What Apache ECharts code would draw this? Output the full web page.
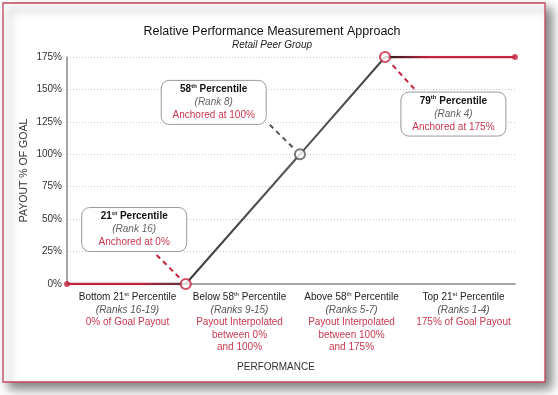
<!DOCTYPE html>
<html><head><meta charset="utf-8">
<script src="https://cdn.jsdelivr.net/npm/echarts@6/dist/echarts.min.js"></script>
<style>html,body{margin:0;padding:0;background:#fff}#c{width:558px;height:395px}</style>
</head><body><div id="c"></div>
<script>
// ---- data ----
const catMain = ['Bottom 21', 'Below 58', 'Above 58', 'Top 21'];
const catSup = ['st', 'th', 'th', 'st'];
const catRanks = ['(Ranks 16-19)', '(Ranks 9-15)', '(Ranks 5-7)', '(Ranks 1-4)'];
const catPayout = [['0% of Goal Payout'], ['Payout Interpolated', 'between 0%', 'and 100%'], ['Payout Interpolated', 'between 100%', 'and 175%'], ['175% of Goal Payout']];
const yTicks = [0, 25, 50, 75, 100, 125, 150, 175];
// payout curve (x in category units 0..4, y in % of goal)
const curveX = [0, 1.06, 2.08, 2.84, 4];
const curveY = [0, 0, 100, 175, 175];
// annotations
const annNum = ['21', '58', '79'];
const annSup = ['st', 'th', 'th'];
const annRank = ['(Rank 16)', '(Rank 8)', '(Rank 4)'];
const annAnchor = ['Anchored at 0%', 'Anchored at 100%', 'Anchored at 175%'];
const annPointIdx = [1, 2, 3];
const annBoxX = [0.60, 1.31, 3.45];
const annBoxY = [42, 140, 131];
const annLeadX = [0.80, 1.81, 3.10];
const annLeadY = [22.4, 122.7, 150.5];

const RED = '#c4243f', REDT = '#c8374f', FONT = 'Liberation Sans, Arial, sans-serif';
const chart = echarts.init(document.getElementById('c'), null, {renderer: 'canvas'});
const pts = curveX.map((x, i) => [x, curveY[i]]);

function grad(stops) {
  return {type: 'linear', x: 0, y: 0, x2: 1, y2: 0, colorStops: stops.map(s => ({offset: s[0], color: s[1]}))};
}

const option = {
  animation: false,
  backgroundColor: '#fff',
  title: {
    text: 'Relative Performance Measurement Approach',
    subtext: 'Retail Peer Group',
    left: 267, top: 20, textAlign: 'center', itemGap: 2,
    textStyle: {fontFamily: FONT, fontSize: 12.5, fontWeight: 'normal', color: '#111'},
    subtextStyle: {fontFamily: FONT, fontSize: 10, fontStyle: 'italic', color: '#222'}
  },
  grid: {left: 67, right: 43, top: 57, bottom: 111},
  xAxis: [
    {type: 'value', min: 0, max: 4, axisLine: {show: true, lineStyle: {color: '#8a8a8a', width: 1.5}},
     axisTick: {show: false}, axisLabel: {show: false}, splitLine: {show: false}},
    {type: 'category', position: 'bottom', data: catMain, boundaryGap: true,
     axisLine: {show: false}, axisTick: {show: false}, splitLine: {show: false},
     axisLabel: {
       margin: 7, interval: 0, lineHeight: 12.5, fontFamily: FONT, padding: [0, 0, 0, 9],
       formatter: (v, i) => {
         let s = '{b|' + catMain[i] + '}{sup|' + catSup[i] + '}{b| Percentile}\n{i|' + catRanks[i] + '}';
         catPayout[i].forEach(l => { s += '\n{r|' + l + '}'; });
         return s;
       },
       rich: {
         b: {fontFamily: FONT, fontSize: 10, color: '#222', lineHeight: 12.5},
         sup: {fontFamily: FONT, fontSize: 6, color: '#222', verticalAlign: 'top', lineHeight: 12.5, padding: [0, 0, 4, 0]},
         i: {fontFamily: FONT, fontSize: 10, color: '#555', fontStyle: 'italic', lineHeight: 12.5},
         r: {fontFamily: FONT, fontSize: 10, color: REDT, lineHeight: 12.5}
       }
     }}
  ],
  yAxis: {
    type: 'value', min: 0, max: 175, interval: 25,
    name: 'PAYOUT % OF GOAL', nameLocation: 'middle', nameGap: 37, nameMoveOverlap: false,
    nameTextStyle: {fontFamily: FONT, fontSize: 10.5, color: '#333'},
    axisLine: {show: true, lineStyle: {color: '#8a8a8a', width: 1.5}},
    axisTick: {show: false},
    axisLabel: {formatter: '{value}%', fontFamily: FONT, fontSize: 10, color: '#333', margin: 5},
    splitLine: {show: true, lineStyle: {color: '#c8c8c8', type: [1, 2], width: 1}}
  },
  series: [
    {type: 'line', xAxisIndex: 0, data: pts.slice(0, 2), symbol: 'none', z: 3,
     lineStyle: {width: 2.5, color: grad([[0, RED], [0.6, RED], [1, '#4a3a3c']])}},
    {type: 'line', xAxisIndex: 0, data: pts.slice(1, 4), symbol: 'none', z: 3,
     lineStyle: {width: 2, color: grad([[0, '#3a3a3a'], [0.5, '#555'], [1, '#444']])}},
    {type: 'line', xAxisIndex: 0, data: pts.slice(3, 5), symbol: 'none', z: 3,
     lineStyle: {width: 2.5, color: grad([[0, '#1a1a1a'], [0.35, RED], [1, RED]])}},
    {type: 'scatter', xAxisIndex: 0, z: 5,
     data: [
       {value: pts[0], symbolSize: 6, itemStyle: {color: RED}},
       {value: pts[1], symbolSize: 10, itemStyle: {color: '#fff', borderColor: RED, borderWidth: 2.2}},
       {value: pts[2], symbolSize: 10, itemStyle: {color: '#fff', borderColor: '#555', borderWidth: 2}},
       {value: pts[3], symbolSize: 10, itemStyle: {color: '#fff', borderColor: RED, borderWidth: 2.2}},
       {value: pts[4], symbolSize: 6, itemStyle: {color: RED}}
     ]}
  ]
};
chart.setOption(option);

// graphics: frame, shadow, axis title, annotation boxes
const g = [
  {type: 'rect', z: -10, silent: true, shape: {x: 3, y: 3, width: 542, height: 379},
   style: {fill: '#fff', stroke: '#c4445a', lineWidth: 1.3, shadowBlur: 10, shadowOffsetX: 6, shadowOffsetY: 6, shadowColor: 'rgba(0,0,0,0.5)'}},
  {type: 'text', x: 276, y: 367, z: 10, style: {text: 'PERFORMANCE', font: '10px ' + FONT, fill: '#333', align: 'center', verticalAlign: 'middle'}}
];
const leadColor = [RED, '#555', RED];
annNum.forEach((n, i) => {
  const c = chart.convertToPixel({xAxisIndex: 0, yAxisIndex: 0}, [annBoxX[i], annBoxY[i]]);
  const w = 105, h = 44;
  g.push({type: 'rect', z: 20, shape: {x: c[0] - w / 2, y: c[1] - h / 2, width: w, height: h, r: 8},
    style: {fill: '#fff', stroke: '#9a9a9a', lineWidth: 1}});
  g.push({type: 'text', z: 21, x: c[0], y: c[1], style: {
    text: '{b|' + n + '}{sup|' + annSup[i] + '}{b| Percentile}\n{i|' + annRank[i] + '}\n{r|' + annAnchor[i] + '}',
    align: 'center', verticalAlign: 'middle', font: '10px ' + FONT,
    rich: {
      b: {fontFamily: FONT, fontSize: 10, fontWeight: 'bold', fill: '#111', lineHeight: 13},
      sup: {fontFamily: FONT, fontSize: 6, fontWeight: 'bold', fill: '#111', lineHeight: 13, verticalAlign: 'top', padding: [0, 0, 4, 0]},
      i: {fontFamily: FONT, fontSize: 10, fontStyle: 'italic', fill: '#666', lineHeight: 13},
      r: {fontFamily: FONT, fontSize: 10, fill: REDT, lineHeight: 13}
    }}});
  const s = chart.convertToPixel({xAxisIndex: 0, yAxisIndex: 0}, [annLeadX[i], annLeadY[i]]);
  const p = chart.convertToPixel({xAxisIndex: 0, yAxisIndex: 0}, pts[annPointIdx[i]]);
  const dx = p[0] - s[0], dy = p[1] - s[1], L = Math.hypot(dx, dy);
  const e = [p[0] - dx / L * 8, p[1] - dy / L * 8];
  g.push({type: 'line', z: 4, shape: {x1: s[0], y1: s[1], x2: e[0], y2: e[1]},
    style: {stroke: leadColor[i], lineWidth: 2, lineDash: [5, 4]}});
});
chart.setOption({graphic: g});
</script></body></html>
